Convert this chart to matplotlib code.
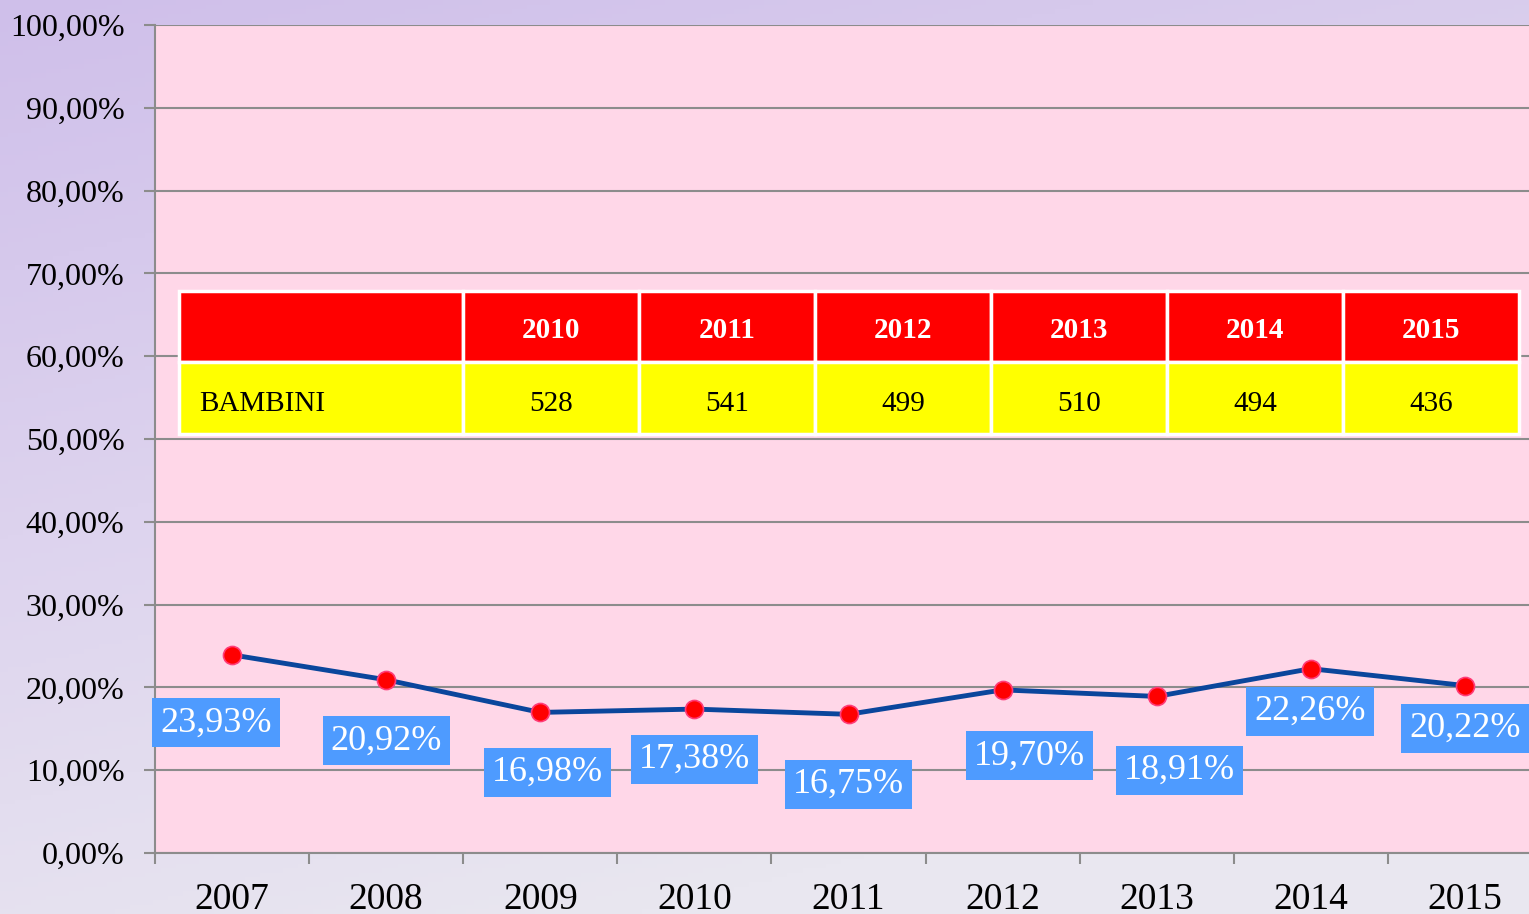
import numpy as np
import matplotlib.pyplot as plt
import matplotlib.ticker as mticker
import matplotlib.transforms as mtransforms
from matplotlib.colors import LinearSegmentedColormap

plt.rcParams['font.family'] = ['Liberation Serif', 'DejaVu Serif']

years = ['2007', '2008', '2009', '2010', '2011', '2012', '2013', '2014', '2015']
pct = [23.93, 20.92, 16.98, 17.38, 16.75, 19.70, 18.91, 22.26, 20.22]

table_years = ['2010', '2011', '2012', '2013', '2014', '2015']
table_label = 'BAMBINI'
bambini = [528, 541, 499, 510, 494, 436]

# label offsets in pixels (dx, dy down) from the point
label_off = [(-16, 68), (0, 61), (7, 60), (0, 50), (0, 70),
             (27, 66), (23, 74), (-1, 43), (0, 43)]

W, H = 1529, 914
fig = plt.figure(figsize=(W / 100, H / 100), dpi=100)

# background gradient
bg = fig.add_axes([0, 0, 1, 1], zorder=-10)
cmap = LinearSegmentedColormap.from_list('bg', ['#CFBFEA', '#DDD3EE', '#E9E7F0'])
yy, xx = np.mgrid[0:1:200j, 0:1:200j]
grad = np.clip(yy * 0.85 + xx * 0.35, 0, 1)
bg.imshow(grad, cmap=cmap, aspect='auto', extent=[0, 1, 1, 0])
bg.axis('off')

ax = fig.add_axes([155 / W, (H - 853) / H, 1387 / W, 828 / H])
ax.set_facecolor('#FFD7E8')
x = np.arange(len(years))

ax.set_xlim(-0.5, len(years) - 0.5)
ax.set_ylim(0, 100)
ax.yaxis.set_major_locator(mticker.MultipleLocator(10))
ax.yaxis.set_major_formatter(mticker.FuncFormatter(lambda v, p: f'{v:.2f}%'.replace('.', ',')))
ax.grid(axis='y', color='#8C8C8C', lw=1.5)
ax.set_axisbelow(True)

ax.set_xticks(np.arange(-0.5, len(years)))
ax.set_xticklabels([])
ax.set_xticks(x, minor=True)
ax.set_xticklabels(years, minor=True)
ax.tick_params(axis='x', which='major', length=8, width=1.5, color='#8C8C8C')
ax.tick_params(axis='x', which='minor', length=0, pad=21, labelsize=27)
ax.tick_params(axis='y', length=8, width=1.5, color='#8C8C8C', pad=14, labelsize=23)

for s in ['top', 'right']:
    ax.spines[s].set_visible(False)
for s in ['left', 'bottom']:
    ax.spines[s].set_color('#8C8C8C')
    ax.spines[s].set_linewidth(1.5)

ax.plot(x, pct, color='#0A469C', lw=3.5, marker='o', ms=13,
        mfc='#FF0000', mec='#FF3C78', mew=1.2, zorder=5)

for xi, v, (dx, dy) in zip(x, pct, label_off):
    ax.annotate(f'{v:.2f}%'.replace('.', ','), (xi, v), xytext=(dx, -dy),
                textcoords='offset pixels', ha='center', va='center',
                fontsize=26, color='white', zorder=6,
                bbox=dict(boxstyle='square,pad=0.22', fc='#4E9BFF', ec='none'))

# table
cell_text = [[table_label] + [str(b) for b in bambini]]
col_labels = [''] + table_years
x0 = (179 - 155) / 1387
tw = 1340 / 1387
widths = [284 / 1340 * tw] + [176 / 1340 * tw] * len(table_years)
tbl = ax.table(cellText=cell_text, colLabels=col_labels, colWidths=widths,
               bbox=[x0, (853 - 434) / 828, tw, 143 / 828], zorder=10)
tbl.auto_set_font_size(False)
for (r, c), cell in tbl.get_celld().items():
    cell.set_edgecolor('white')
    cell.set_linewidth(2.5)
    txt = cell.get_text()
    txt.set_fontsize(21)
    txt.set_transform(mtransforms.Affine2D().translate(0, -4 if r == 0 else -6))
    if r == 0:
        cell.set_facecolor('#FF0000')
        txt.set_color('white')
        txt.set_fontweight('bold')
        txt.set_ha('center')
    else:
        cell.set_facecolor('#FFFF00')
        txt.set_color('black')
        if c == 0:
            txt.set_ha('left')
            cell.PAD = 0.07
        else:
            txt.set_ha('center')

fig.savefig('out.png', dpi=100)
